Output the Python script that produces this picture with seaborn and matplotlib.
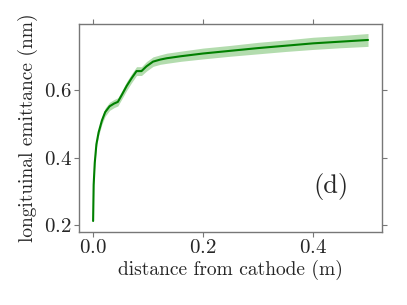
import numpy as np
import pandas as pd
import matplotlib
matplotlib.use("Agg")
import matplotlib.pyplot as plt
import seaborn as sns

# emittance along the beamline
distance = [0.0, 0.001, 0.003, 0.006, 0.010, 0.016, 0.022, 0.030, 0.038, 0.045,
            0.052, 0.061, 0.070, 0.079, 0.088, 0.097, 0.109, 0.122, 0.134,
            0.16, 0.2, 0.25, 0.3, 0.35, 0.4, 0.45, 0.5]
emittance = [0.213, 0.32, 0.385, 0.44, 0.475, 0.51, 0.535, 0.552, 0.560, 0.565,
             0.585, 0.612, 0.635, 0.656, 0.656, 0.670, 0.684, 0.690, 0.694,
             0.700, 0.708, 0.716, 0.724, 0.731, 0.738, 0.743, 0.748]
spread = [0.004, 0.006, 0.008, 0.009, 0.010, 0.011, 0.012, 0.012, 0.012, 0.012,
          0.012, 0.013, 0.013, 0.013, 0.013, 0.014, 0.014, 0.014, 0.015,
          0.015, 0.016, 0.016, 0.017, 0.017, 0.018, 0.018, 0.019]

df = pd.DataFrame({"distance": distance, "emittance": emittance, "spread": spread})

sns.set_style("ticks")
plt.rcParams["font.family"] = ["cmr10"]
plt.rcParams["mathtext.fontset"] = "cm"
plt.rcParams["axes.formatter.use_mathtext"] = True
plt.rcParams["axes.unicode_minus"] = False

fig, ax = plt.subplots(figsize=(4.07, 3.05), dpi=100)
fig.subplots_adjust(left=0.195, right=0.938, top=0.921, bottom=0.24)

ax.fill_between(df["distance"], df["emittance"] - df["spread"],
                df["emittance"] + df["spread"], color="#b3dcae", lw=0)
sns.lineplot(data=df, x="distance", y="emittance", color="green", lw=1.5, ax=ax)

ax.yaxis.set_major_locator(matplotlib.ticker.MultipleLocator(0.2))
ax.xaxis.set_major_locator(matplotlib.ticker.MultipleLocator(0.2))
ax.tick_params(top=True, right=True, direction="out", length=3.5,
               color="#777777", labelsize=15, pad=2)
for s in ax.spines.values():
    s.set_color("#777777")
    s.set_linewidth(1.0)

ax.set_xlabel("distance from cathode (m)", fontsize=14, labelpad=2)
ax.set_ylabel("longituinal emittance (nm)", fontsize=14, labelpad=4)
ax.text(0.40, 0.315, "(d)", fontsize=19, ha="left", va="center")

fig.savefig("out.png", dpi=100)
